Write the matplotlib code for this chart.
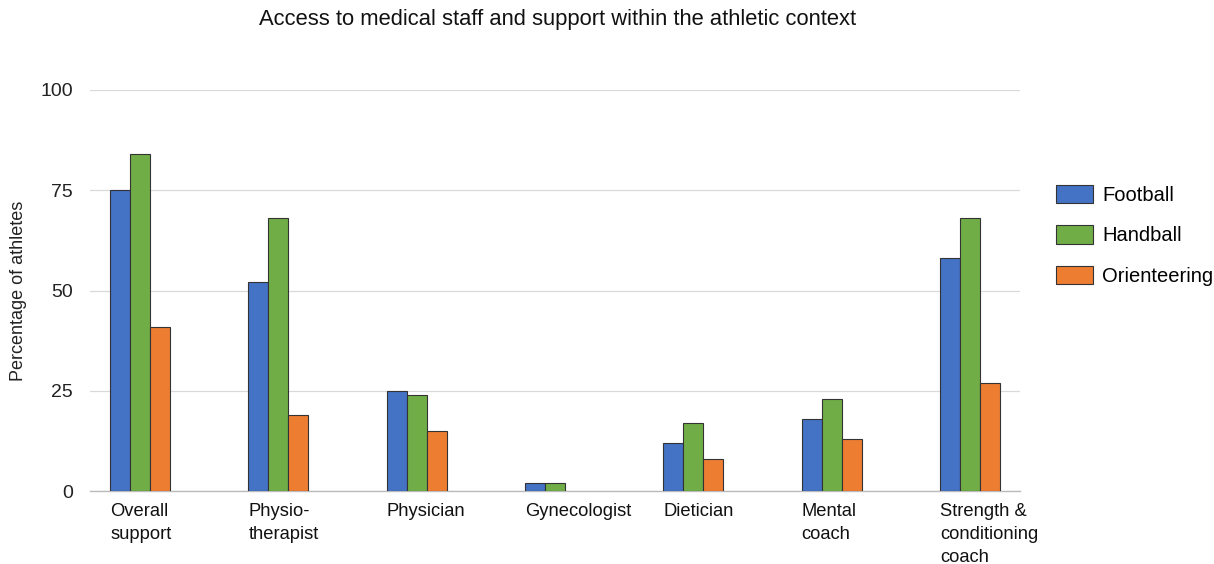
import matplotlib
matplotlib.use("Agg")
import matplotlib.pyplot as plt
from matplotlib.patches import Patch
import numpy as np

plt.rcParams['font.family'] = ['Liberation Sans', 'DejaVu Sans']

categories = ["Overall\nsupport", "Physio-\ntherapist", "Physician", "Gynecologist",
              "Dietician", "Mental\ncoach", "Strength &\nconditioning\ncoach"]
series_names = ["Football", "Handball", "Orienteering"]
football = [75, 52, 25, 2, 12, 18, 58]
handball = [84, 68, 24, 2, 17, 23, 68]
orienteering = [41, 19, 15, 0, 8, 13, 27]
colors = ["#4472C4", "#70AD47", "#ED7D31"]
yticks = [0, 25, 50, 75, 100]

W, H = 1214, 564
fig = plt.figure(figsize=(W / 100, H / 100), dpi=100)
ax = fig.add_axes([90 / W, 1 - 491 / H, 930 / W, 401 / H])

step = 138.0
bw = 20 / step
x = np.arange(len(categories))
for k, (vals, c) in enumerate(zip([football, handball, orienteering], colors)):
    v = np.array(vals, dtype=float)
    mask = v > 0
    ax.bar(x[mask] + (k + 0.5) * bw, v[mask], width=bw, color=c,
           edgecolor="#333333", linewidth=0.8, zorder=3)

ax.set_xlim(-20 / step, len(categories) - 1 + 80 / step)
ax.set_ylim(0, 100)
ax.set_yticks(yticks)
ax.set_yticklabels([str(t) for t in yticks], fontsize=14, color="#222222")
ax.set_xticks(x)
ax.set_xticklabels(categories, ha="left", fontsize=13.2, color="#111111", va="top",
                   linespacing=1.45)
ax.tick_params(axis="both", length=0)
ax.tick_params(axis="x", pad=9)
ax.tick_params(axis="y", pad=12.5)
ax.grid(axis="y", color="#d9d9d9", linewidth=0.9, zorder=0)
for s in ["top", "right", "left"]:
    ax.spines[s].set_visible(False)
ax.spines["bottom"].set_color("#bbbbbb")
ax.spines["bottom"].set_linewidth(1.0)

fig.text(19 / W, 1 - 291 / H, "Percentage of athletes", rotation=90,
         ha="center", va="center", fontsize=13, color="#222222")

fig.text(558 / W, 1 - 20 / H, "Access to medical staff and support within the athletic context",
         ha="center", va="center", fontsize=15.8, color="#111111")

handles = [Patch(facecolor=c, edgecolor="#333333", linewidth=0.8) for c in colors]
fig.legend(handles, series_names, loc="upper left", bbox_to_anchor=(1050 / W, 1 - 179 / H),
           frameon=False, fontsize=14.5, handlelength=1.85, handleheight=1.0,
           handletextpad=0.45, labelspacing=1.02, borderaxespad=0, borderpad=0.3)

fig.savefig("out.png", dpi=100)
